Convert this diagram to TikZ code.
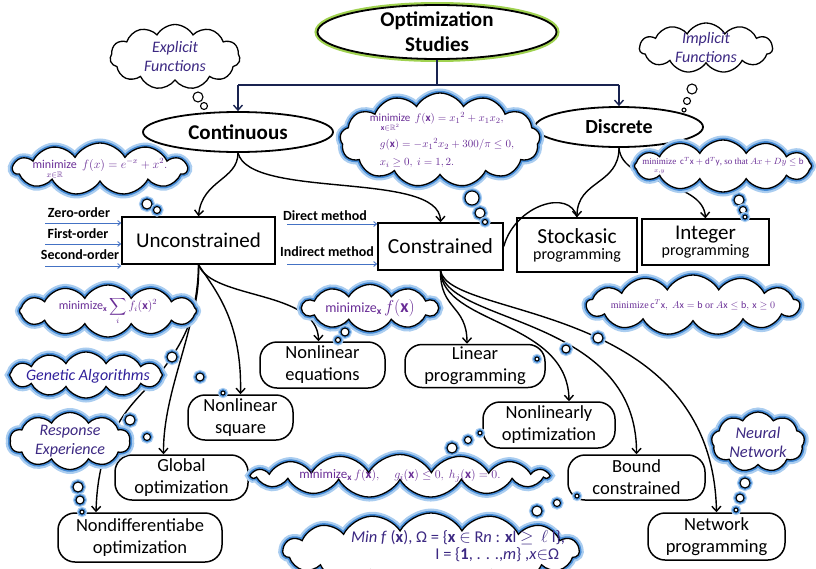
\documentclass[tikz,border=0pt]{standalone}
\usepackage{amsmath,amssymb}
\usepackage{fontspec}
\setmainfont{Carlito}
\newfontfamily\tms{Liberation Serif}
\usetikzlibrary{shapes.geometric,shapes.symbols,arrows.meta,calc}
\definecolor{glowblue}{RGB}{70,140,215}
\definecolor{glowlight}{RGB}{170,205,240}
\definecolor{glowgreen}{RGB}{160,210,80}
\definecolor{navy}{RGB}{25,35,80}
\definecolor{fpurple}{RGB}{105,45,150}
\definecolor{lblue}{RGB}{68,114,196}
\definecolor{cind}{RGB}{60,40,130}
\newcommand{\lowlim}[1]{\raisebox{-2.5pt}{$\scriptstyle #1$}}
\tikzset{
 conn/.style={line width=1.4pt, -{Straight Barb[length=5pt,width=9pt]}},
 plainline/.style={line width=1.4pt},
 ell/.style={ellipse, draw, line width=1.8pt, fill=white, inner sep=0pt},
 glowg/.style={preaction={draw=glowgreen, line width=6pt}},
 sqbox/.style={rectangle, draw, line width=1.5pt, fill=white, inner sep=0pt, align=center},
 rbox/.style={rectangle, rounded corners=17pt, draw, line width=1.5pt, fill=white, inner sep=0pt, align=center, font=\fontsize{18.5}{22}\selectfont},
 cl/.style={cloud, cloud puffs=11, cloud puff arc=120, cloud ignores aspect, draw, line width=1.3pt, fill=white, inner sep=0pt},
 clg/.style={cl, preaction={draw=glowlight, line width=9pt}, preaction={draw=glowblue, line width=4.5pt}},
 bub/.style={circle, draw, line width=1.1pt, fill=white, inner sep=0pt},
 bubg/.style={bub, preaction={draw=glowlight, line width=6pt}, preaction={draw=glowblue, line width=3.5pt}},
 ftxt/.style={text=fpurple, inner sep=0pt, align=left},
 itxt/.style={text=cind, font=\fontsize{16}{19}\selectfont\itshape, align=center, inner sep=0pt},
 sidelab/.style={font=\fontsize{14}{16}\selectfont\bfseries, inner sep=0pt},
 sidearr/.style={draw=lblue, line width=0.9pt, -{Straight Barb[length=3pt,width=5pt]}},
}
\begin{document}
\begin{tikzpicture}[x=1pt,y=-1pt]
\useasboundingbox (0,0) rectangle (816,568);
% ---------- main nodes
\node[ell, glowg, minimum width=239pt, minimum height=54pt] (opt) at (437,32) {};
\node[font=\fontsize{21}{25}\selectfont\bfseries, align=center, inner sep=0pt] (optt) at (opt) {Optimization\\Studies};
\node[ell, minimum width=190pt, minimum height=40pt] (cont) at (238,132) {};
\node[font=\fontsize{21}{24}\selectfont\bfseries, inner sep=0pt] (contt) at (cont) {Continuous};
\node[ell, minimum width=168pt, minimum height=40pt] (disc) at (619,127) {};
\node[font=\fontsize{20}{24}\selectfont\bfseries, inner sep=0pt] (disct) at (disc) {Discrete};

\node[sqbox, minimum width=153pt, minimum height=47pt, font=\fontsize{21}{24}\selectfont] (unc) at (198.5,240.5) {Unconstrained};
\node[sqbox, minimum width=125pt, minimum height=47pt, font=\fontsize{21.5}{24}\selectfont] (constr) at (440.5,246.5) {Constrained};
\node[sqbox, minimum width=120pt, minimum height=54pt] (stock) at (577,245) {{\fontsize{21.5}{24}\selectfont Stockasic}\\[4pt]{\fontsize{16}{18}\selectfont programming}};
\node[sqbox, minimum width=127pt, minimum height=46pt] (integ) at (705.5,242) {{\fontsize{21}{24}\selectfont Integer}\\[1pt]{\fontsize{16}{18}\selectfont programming}};

\node[rbox, minimum width=125pt, minimum height=46pt] (nleq) at (322.5,365) {Nonlinear\\equations};
\node[rbox, minimum width=140pt, minimum height=43pt] (lin) at (475,366) {Linear\\programming};
\node[rbox, minimum width=105pt, minimum height=45pt] (nlsq) at (240.5,417.5) {Nonlinear\\square};
\node[rbox, minimum width=132pt, minimum height=46pt] (nlopt) at (549,425) {Nonlinearly\\optimization};
\node[rbox, minimum width=133pt, minimum height=45pt] (glob) at (181.5,477.5) {Global\\optimization};
\node[rbox, minimum width=137pt, minimum height=45pt] (bound) at (636.5,477.5) {Bound\\constrained};
\node[rbox, minimum width=164pt, minimum height=49pt] (nondiff) at (140,537.5) {Nondifferentiabe\\optimization};
\node[rbox, minimum width=137pt, minimum height=47pt] (net) at (716.5,536.5) {Network\\programming};

% ---------- connectors
\coordinate (hub) at (437,85);
\coordinate (hl) at (238,85);
\coordinate (hr) at (619,85);
\draw[plainline, navy] (opt.south) -- (hub);
\draw[plainline, navy] (hl) -- (hr);
\draw[conn, navy] (hl) -- (cont.north);
\draw[conn, navy] (hr) -- (disc.north);

\draw[conn] (cont.south) .. controls (238,180) and (202,180) .. (unc.north);
\draw[conn] (cont.south) .. controls (250,200) and (440,170) .. (constr.north);
\draw[conn] (disc.south) .. controls (619,185) and (577,180) .. (stock.north);
\draw[plainline] (constr.east) .. controls (515,205) and (570,188) .. (stock.north);
\draw[conn] (disc.south) .. controls (622,185) and (703,180) .. (integ.north);

\coordinate (ndtop) at ($(nondiff.north)+(-44,0)$);
\coordinate (glbtop) at ($(glob.north)+(-18,0)$);
\coordinate (nleqtop) at ($(nleq.north)+(-4,0)$);
\coordinate (lintop) at ($(lin.north)+(-8,0)$);
\coordinate (nlotop) at ($(nlopt.north)+(20,0)$);
\draw[conn] (unc.south) .. controls (200,310) and (185,345) .. (150,385) .. controls (125,410) and (98,440) .. (ndtop);
\draw[conn] (unc.south) .. controls (198,330) and (163,390) .. (glbtop);
\draw[conn] (unc.south) .. controls (215,290) and (242,320) .. (nlsq.north);
\draw[conn] (unc.south) .. controls (212,300) and (318,290) .. (nleqtop);

\draw[conn] (constr.south) .. controls (440,310) and (467,305) .. (lintop);
\draw[conn] (constr.south) .. controls (443,325) and (568,320) .. (nlotop);
\draw[conn] (constr.south) .. controls (446,325) and (637,315) .. (bound.north);
\draw[conn] (constr.south) .. controls (450,320) and (712,300) .. (net.north);

% ---------- side labels
\node[sidelab] (zo) at (79,213) {Zero-order};
\node[sidelab] (fo) at (78,234) {First-order};
\node[sidelab] (so) at (80,255) {Second-order};
\coordinate (zos) at (45,223);
\coordinate (fos) at (45,244);
\coordinate (sos) at (45,266);
\draw[sidearr] (zos) -- (unc.west |- zos);
\draw[sidearr] (fos) -- (unc.west |- fos);
\draw[sidearr] (sos) -- (unc.west |- sos);
\node[sidelab] (dm) at (325,216) {Direct method};
\node[sidelab] (im) at (327,252) {Indirect method};
\coordinate (dms) at (287,224);
\coordinate (ims) at (287,264);
\draw[sidearr] (dms) -- (constr.west |- dms);
\draw[sidearr] (ims) -- (constr.west |- ims);

% ---------- clouds
\node[cl, minimum width=130pt, minimum height=65pt] (explc) at (175,57) {};
\node[itxt] (explt) at (explc) {Explicit\\Functions};
\node[cl, minimum width=133pt, minimum height=50pt] (implc) at (706,48) {};
\node[itxt] (implt) at (implc) {Implicit\\Functions};

\node[clg, minimum width=174pt, minimum height=52pt] (c1) at (100,169) {};
\node[ftxt, font=\fontsize{12}{14}\selectfont] (c1t) at (c1) {$\mathop{\text{minimize}}\limits_{\lowlim{x\in\mathbb{R}}}\; f(x) = e^{-x} + x^2.$};

\node[clg, cloud puffs=13, minimum width=200pt, minimum height=94pt] (c2) at (440,140) {};
\node[ftxt, font=\fontsize{11}{15}\selectfont] (c2t) at (442,140) {$\mathop{\text{minimize}}\limits_{\lowlim{\mathbf{x}\in\mathbb{R}^2}}\ f(\mathbf{x}) = {x_1}^2 + x_1x_2,$\\[5pt]\hspace*{10pt}$g(\mathbf{x}) = -{x_1}^2x_2 + 300/\pi \le 0,$\\[3pt]\hspace*{10pt}$x_i \ge 0,\ i=1,2.$};

\node[clg, cloud puffs=12, minimum width=177pt, minimum height=52pt] (c3) at (723,166) {};
\node[ftxt, font=\fontsize{9}{11}\selectfont\tms] (c3t) at (c3) {$\mathop{\text{minimize}}\limits_{\lowlim{x,y}}\ \mathrm{c}^T\mathrm{x}+\mathrm{d}^T\mathrm{y}$, so that $Ax+Dy\le \mathrm{b}$};

\node[clg, cloud puffs=13, minimum width=213pt, minimum height=60pt] (c4) at (693,305) {};
\node[ftxt, font=\fontsize{10}{12}\selectfont\tms] (c4t) at (c4) {minimize$\,\mathrm{c}^T\mathrm{x},\ A\mathrm{x}=\mathrm{b}$ or $A\mathrm{x}\le \mathrm{b},\,\mathrm{x}\ge 0$};

\node[clg, cloud puffs=12, minimum width=177pt, minimum height=52pt] (c5) at (108,311) {};
\node[ftxt, font=\fontsize{12}{14}\selectfont] (c5t) at (c5) {$\text{minimize}_{\mathbf{x}}\displaystyle\sum_i f_i(\mathbf{x})^2$};

\node[clg, cloud puffs=10, minimum width=135pt, minimum height=47pt] (c6) at (370,308) {};
\node[ftxt] (c6t) at (c6) {{\fontsize{14}{16}\selectfont minimize$_{\mathbf{x}}$} {\fontsize{18}{20}\selectfont $f(\mathbf{x})$}};

\node[clg, cloud puffs=12, minimum width=153pt, minimum height=46pt] (c7) at (86,375) {};
\node[itxt, text=cind!80!blue] (c7t) at (88,376) {Genetic Algorithms};

\node[clg, cloud puffs=10, minimum width=120pt, minimum height=57pt] (c8) at (70,441) {};
\node[itxt] (c8t) at (c8) {Response\\Experience};

\node[clg, cloud puffs=9, minimum width=93pt, minimum height=60pt] (c9) at (758,442) {};
\node[itxt, font=\fontsize{16.5}{19}\selectfont\itshape] (c9t) at (c9) {Neural\\Network};

\node[clg, cloud puffs=15, minimum width=296pt, minimum height=43pt] (c10) at (400,476) {};
\node[ftxt, font=\fontsize{13}{15}\selectfont] (c10t) at (c10) {minimize$_{\mathbf{x}}\,f(\mathbf{x}),\quad g_i(\mathbf{x})\le 0,\ h_j(\mathbf{x})=0.$};

\node[clg, cloud puffs=15, minimum width=296pt, minimum height=76pt] (c11) at (431,551) {};
\node[text=cind, font=\fontsize{16.5}{17}\selectfont, align=right, inner sep=0pt] (c11t) at (458,546) {\textit{Min f} (\textbf{x}), Ω = \{\textbf{x} $\in$ R\textit{n} : \textbf{x}l $\geq$ \ $\ell$ l\},\\ I = \{\textbf{1}, . . .,\textit{m}\} ,\textit{x}$\in$Ω\hspace*{6pt}};

% ---------- thought bubbles
\node[bub, minimum size=10pt] (e1) at (198,97) {};
\node[bub, minimum size=7pt] (e2) at (204,106) {};
\node[bub, minimum size=10pt] (i1) at (692,89) {};
\node[bub, minimum size=7pt] (i2) at (687,101) {};
\node[bub, minimum size=4pt] (i3) at (684,110) {};
\node[bubg, minimum size=10pt] (a1) at (147,204) {};
\node[bubg, minimum size=7pt] (a2) at (157,210) {};
\node[bubg, minimum size=14pt] (m1) at (472,198) {};
\node[bubg, minimum size=10pt] (m2) at (480,213) {};
\node[bubg, minimum size=5pt] (m3) at (485,222) {};
\node[bubg, minimum size=10pt] (d1) at (739,200) {};
\node[bubg, minimum size=7pt] (d2) at (743,210) {};
\node[bubg, minimum size=4pt] (d3) at (745,217) {};
\node[bubg, minimum size=10pt] (l1) at (598,338) {};
\node[bubg, minimum size=8pt] (l2) at (566,349) {};
\node[bubg, minimum size=4pt] (l3) at (537,359) {};
\node[bubg, minimum size=10pt] (s1) at (172,357) {};
\node[bubg, minimum size=8pt] (s2) at (200,377) {};
\node[bubg, minimum size=4pt] (s3) at (223,393) {};
\node[bubg, minimum size=10pt] (g1) at (130,420) {};
\node[bubg, minimum size=7pt] (g2) at (147,437) {};
\node[bubg, minimum size=10pt] (r1) at (78,487) {};
\node[bubg, minimum size=8pt] (r2) at (80,500) {};
\node[bubg, minimum size=4pt] (r3) at (82,512) {};
\node[bubg, minimum size=8pt] (f1) at (345,332) {};
\node[bubg, minimum size=5pt] (f2) at (338,340) {};
\node[bubg, minimum size=10pt] (h1) at (452,448) {};
\node[bubg, minimum size=7pt] (h2) at (468,440) {};
\node[bubg, minimum size=4pt] (h3) at (480,433) {};
\node[bubg, minimum size=10pt] (n1) at (537,511) {};
\node[bubg, minimum size=7pt] (n2) at (557,503) {};
\node[bubg, minimum size=4pt] (n3) at (577,496) {};
\node[bubg, minimum size=10pt] (w1) at (745,483) {};
\node[bubg, minimum size=8pt] (w2) at (740,498) {};
\node[bubg, minimum size=4pt] (w3) at (736,510) {};
\end{tikzpicture}
\end{document}
